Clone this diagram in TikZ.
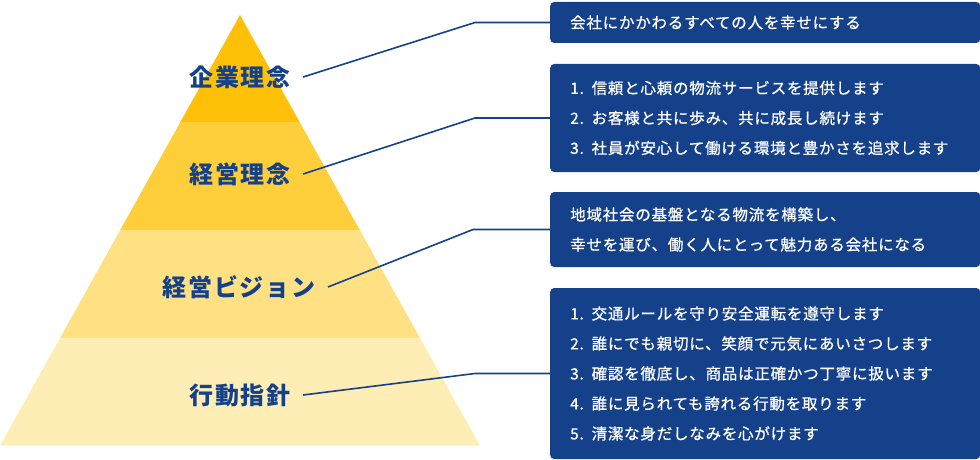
\documentclass[tikz,border=0pt]{standalone}
\usepackage{fontspec}
\newfontfamily\jpfont{Noto Sans CJK JP}[LetterSpace=8]
\newfontfamily\jpboxfont{Noto Sans CJK JP}[LetterSpace=5,FakeBold=0.8]
\usetikzlibrary{positioning}
\definecolor{navy}{HTML}{14418A}
\definecolor{layerA}{HTML}{FFC107}
\definecolor{layerB}{HTML}{FFCF3B}
\definecolor{layerC}{HTML}{FFE184}
\definecolor{layerD}{HTML}{FEEDB4}
\tikzset{
  level/.style={font=\jpfont\bfseries\fontsize{24}{24}\selectfont, text=navy, inner xsep=12pt, inner ysep=0pt},
  card/.style={fill=navy, rounded corners=4pt, text=white, anchor=west, align=left,
    text width=390pt, inner xsep=20pt, inner ysep=0pt,
    font=\jpboxfont\fontsize{15.5}{30}\selectfont},
  link/.style={draw=navy, line width=1.6pt}
}
\begin{document}
\begin{tikzpicture}[x=1pt,y=-1pt]
\useasboundingbox (0,0) rectangle (980,460);
\begin{scope}
  \clip (240,15) -- (480,445.7) -- (0,445.7) -- cycle;
  \fill[layerA] (0,0) rectangle (480,121.7);
  \fill[layerB] (0,121.7) rectangle (480,230);
  \fill[layerC] (0,230) rectangle (480,337.7);
  \fill[layerD] (0,337.7) rectangle (480,446);
\end{scope}
\node[level] (l1) at (240,77) {企業理念};
\node[level] (l2) at (240,174) {経営理念};
\node[level] (l3) at (239,287) {経営ビジョン};
\node[level] (l4) at (240,395) {行動指針};
\node[card, minimum height=41pt] (b1) at (550,22.5) {会社にかかわるすべての人を幸せにする};
\node[card, minimum height=108pt] (b2) at (550,118) {1. 信頼と心頼の物流サービスを提供します\\2. お客様と共に歩み、共に成長し続けます\\3. 社員が安心して働ける環境と豊かさを追求します};
\node[card, minimum height=75pt] (b3) at (550,229.5) {地域社会の基盤となる物流を構築し、\\幸せを運び、働く人にとって魅力ある会社になる};
\node[card, minimum height=171pt] (b4) at (550,373.5) {1. 交通ルールを守り安全運転を遵守します\\2. 誰にでも親切に、笑顔で元気にあいさつします\\3. 確認を徹底し、商品は正確かつ丁寧に扱います\\4. 誰に見られても誇れる行動を取ります\\5. 清潔な身だしなみを心がけます};
\coordinate (k1) at ([xshift=-75pt]b1.west);
\coordinate (k2) at ([xshift=-75pt]b2.west);
\coordinate (k3) at ([xshift=-77pt]b3.west);
\coordinate (k4) at ([xshift=-75pt]b4.west);
\draw[link] (l1.east) -- (k1) -- (b1.west);
\draw[link] (l2.east) -- (k2) -- (b2.west);
\draw[link] (l3.east) -- (k3) -- (b3.west);
\draw[link] (l4.east) -- (k4) -- (b4.west);
\end{tikzpicture}
\end{document}
